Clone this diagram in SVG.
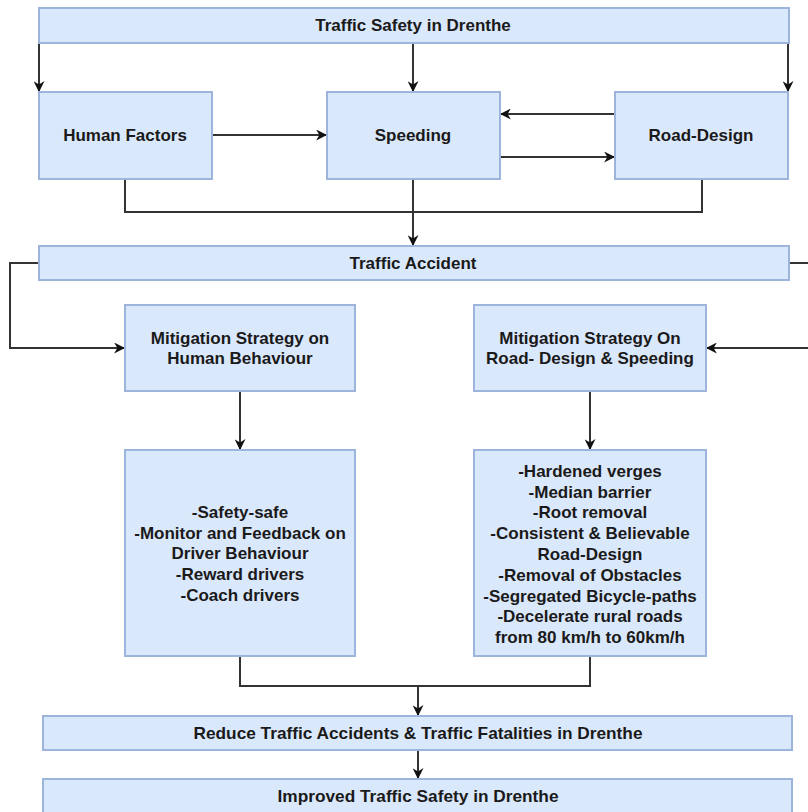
<svg xmlns="http://www.w3.org/2000/svg" width="808" height="812" viewBox="0 0 808 812">
<defs>
<style>
.n{fill:#dae8fc;stroke:#9db5dc;stroke-width:2}
.t{font-family:"Liberation Sans",Arial,sans-serif;font-weight:bold;font-size:17px;fill:#1a1a1a;text-anchor:middle;dominant-baseline:central}
.c{fill:none;stroke:#333;stroke-width:2}
</style>
<marker id="a" viewBox="0 0 10 10" refX="9" refY="5" markerWidth="11" markerHeight="11" markerUnits="userSpaceOnUse" orient="auto"><path d="M0,0 L10,5 L0,10 L3,5 Z" fill="#111"/></marker>
</defs>
<rect width="808" height="812" fill="#fff"/>
<g id="connectors">
<path class="c" d="M39,43 V91" marker-end="url(#a)"/>
<path class="c" d="M413,43 V91" marker-end="url(#a)"/>
<path class="c" d="M788,43 V91" marker-end="url(#a)"/>
<path class="c" d="M212,135 H326" marker-end="url(#a)"/>
<path class="c" d="M615,114 H501" marker-end="url(#a)"/>
<path class="c" d="M500,157 H614" marker-end="url(#a)"/>
<path class="c" d="M125,179 V212 H702 V179"/>
<path class="c" d="M413,179 V245" marker-end="url(#a)"/>
<path class="c" d="M39,263 H10 V348 H124" marker-end="url(#a)"/>
<path class="c" d="M789,263 H812 V348 H707" marker-end="url(#a)"/>
<path class="c" d="M240,391 V449" marker-end="url(#a)"/>
<path class="c" d="M590,391 V449" marker-end="url(#a)"/>
<path class="c" d="M240,656 V686 H590 V656"/>
<path class="c" d="M418,686 V715" marker-end="url(#a)"/>
<path class="c" d="M418,750 V778" marker-end="url(#a)"/>
</g>
<g id="n-top"><rect class="n" x="39" y="8" width="750" height="35"/><text class="t" x="413" y="25">Traffic Safety in Drenthe</text></g>
<g id="n-human"><rect class="n" x="39" y="92" width="173" height="87"/><text class="t" x="125" y="135">Human Factors</text></g>
<g id="n-speed"><rect class="n" x="327" y="92" width="173" height="87"/><text class="t" x="413" y="135">Speeding</text></g>
<g id="n-road"><rect class="n" x="615" y="92" width="173" height="87"/><text class="t" x="701" y="135">Road-Design</text></g>
<g id="n-accident"><rect class="n" x="39" y="246" width="750" height="34"/><text class="t" x="413" y="263">Traffic Accident</text></g>
<g id="n-mithuman"><rect class="n" x="125" y="305" width="230" height="86"/><text class="t" x="240" y="338">Mitigation Strategy on</text><text class="t" x="240" y="358">Human Behaviour</text></g>
<g id="n-mitroad"><rect class="n" x="474" y="305" width="232" height="86"/><text class="t" x="590" y="338">Mitigation Strategy On</text><text class="t" x="590" y="358">Road- Design &amp; Speeding</text></g>
<g id="n-humanlist"><rect class="n" x="125" y="450" width="230" height="206"/>
<text class="t" x="240" y="512">-Safety-safe</text>
<text class="t" x="240" y="533">-Monitor and Feedback on</text>
<text class="t" x="240" y="553">Driver Behaviour</text>
<text class="t" x="240" y="574">-Reward drivers</text>
<text class="t" x="240" y="595">-Coach drivers</text></g>
<g id="n-roadlist"><rect class="n" x="474" y="450" width="232" height="206"/>
<text class="t" x="590" y="471">-Hardened verges</text>
<text class="t" x="590" y="492">-Median barrier</text>
<text class="t" x="590" y="512">-Root removal</text>
<text class="t" x="590" y="533">-Consistent &amp; Believable</text>
<text class="t" x="590" y="554">Road-Design</text>
<text class="t" x="590" y="575">-Removal of Obstacles</text>
<text class="t" x="590" y="596">-Segregated Bicycle-paths</text>
<text class="t" x="590" y="616">-Decelerate rural roads</text>
<text class="t" x="590" y="637">from 80 km/h to 60km/h</text></g>
<g id="n-reduce"><rect class="n" x="43" y="716" width="749" height="34"/><text class="t" x="418" y="733" textLength="449" lengthAdjust="spacingAndGlyphs">Reduce Traffic Accidents &amp; Traffic Fatalities in Drenthe</text></g>
<g id="n-improved"><rect class="n" x="43" y="779" width="749" height="40"/><text class="t" x="418" y="796" textLength="281" lengthAdjust="spacingAndGlyphs">Improved Traffic Safety in Drenthe</text></g>
</svg>
